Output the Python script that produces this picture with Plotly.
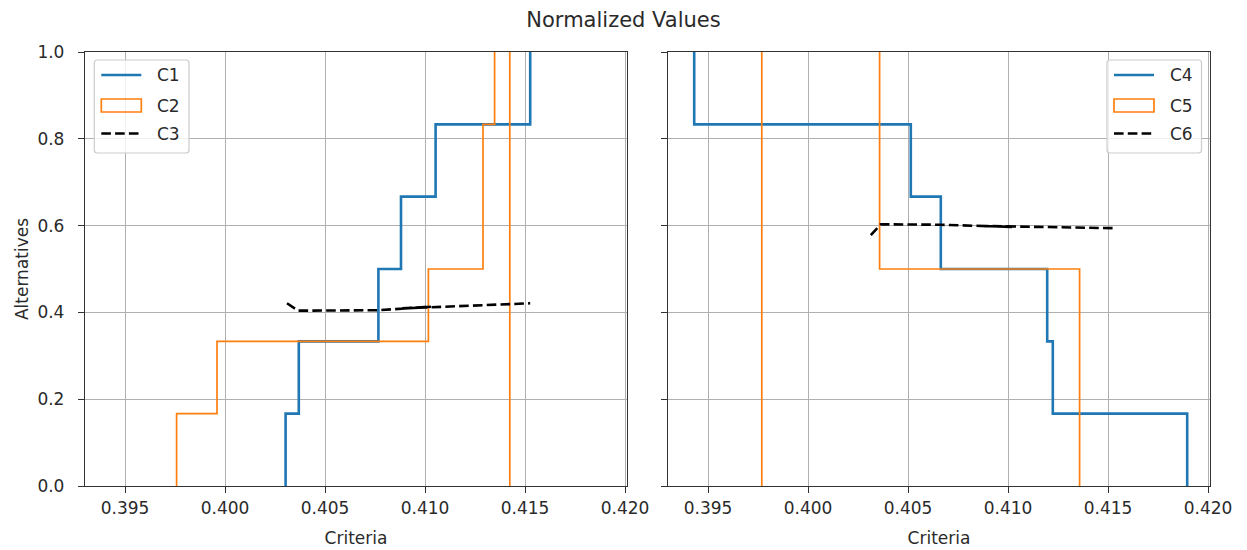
import plotly.graph_objects as go

# ---------------- data ----------------
x_ticks = [0.395, 0.400, 0.405, 0.410, 0.415, 0.420]
y_ticks = [0.0, 0.2, 0.4, 0.6, 0.8, 1.0]

# left panel
c1_x = [0.40303, 0.40303, 0.40369, 0.40767, 0.40880, 0.41053, 0.41526]
c1_y = [0.0, 0.1667, 0.3333, 0.5, 0.6667, 0.8333, 1.0]
c2_x = [0.39758, 0.39758, 0.39960, 0.41017, 0.41290, 0.41348, None, 0.41424, 0.41424]
c2_y = [0.0, 0.1667, 0.3333, 0.5, 0.8333, 1.0, None, 1.0, 0.0]
c3_x = [0.40310, 0.40365, 0.40767, 0.41030, 0.40880, 0.41526]
c3_y = [0.421, 0.404, 0.405, 0.413, 0.409, 0.421]

# right panel
c4_x = [0.39431, 0.39431, 0.40514, 0.40664, 0.41196, 0.41224, 0.41896]
c4_y = [1.0, 0.8333, 0.6667, 0.5, 0.3333, 0.1667, 0.0]
c5_x = [0.39769, 0.39769, None, 0.40358, 0.40358, 0.41358]
c5_y = [0.0, 1.0, None, 1.0, 0.5, 0.0]
c6_x = [0.40314, 0.40364, 0.40664, 0.41020, 0.40888, 0.41536]
c6_y = [0.578, 0.603, 0.602, 0.597, 0.599, 0.594]

BLUE = "#1f77b4"
ORANGE = "#ff7f0e"
DASH = "9.6px,4.2px"
FONT = "DejaVu Sans"
TXT = "#2a2a2a"

W, H = 1247, 550
ML, MR, MT, MB = 85, 37, 52, 64
PW = W - ML - MR
PH = H - MT - MB

fig = go.Figure()

def add(x, y, color, width, dash=None, shape="hv", xa="x", ya="y", name=""):
    fig.add_trace(go.Scatter(
        x=x, y=y, mode="lines", name=name, showlegend=False,
        line=dict(color=color, width=width, dash=dash, shape=shape),
        connectgaps=False, xaxis=xa, yaxis=ya, hoverinfo="skip"))

add(c1_x, c1_y, BLUE, 2.6, name="C1")
add(c2_x, c2_y, ORANGE, 1.7, name="C2")
add(c3_x, c3_y, "black", 2.6, dash=DASH, shape="linear", name="C3")
add(c4_x, c4_y, BLUE, 2.6, xa="x2", ya="y2", name="C4")
add(c5_x, c5_y, ORANGE, 1.7, xa="x2", ya="y2", name="C5")
add(c6_x, c6_y, "black", 2.6, dash=DASH, shape="linear", xa="x2", ya="y2", name="C6")

axis_common = dict(
    range=[0.3930, 0.4201], tickvals=x_ticks, tickformat=".3f", automargin=False,
    showline=True, mirror=True, linecolor="#333", linewidth=1.3,
    ticks="outside", ticklen=6, tickwidth=1.3, tickcolor="#333",
    showgrid=True, gridcolor="#b0b0b0", gridwidth=1.2, zeroline=False,
    tickfont=dict(family=FONT, size=17, color=TXT),
    title=dict(text="Criteria", font=dict(family=FONT, size=17, color=TXT), standoff=15),
)
yaxis_common = dict(
    range=[0, 1], tickvals=y_ticks, tickformat=".1f", automargin=False,
    showline=True, mirror=True, linecolor="#333", linewidth=1.3,
    ticks="outside", ticklen=6, tickwidth=1.3, tickcolor="#333",
    showgrid=True, gridcolor="#b0b0b0", gridwidth=1.2, zeroline=False,
    tickfont=dict(family=FONT, size=17, color=TXT),
)

fig.update_layout(
    width=W, height=H,
    margin=dict(l=ML, r=MR, t=MT, b=MB, pad=0, autoexpand=False),
    paper_bgcolor="white", plot_bgcolor="white",
    font=dict(family=FONT, size=17, color=TXT),
    xaxis=dict(domain=[0, 542 / PW], anchor="y", **axis_common),
    xaxis2=dict(domain=[583 / PW, 1], anchor="y2", **axis_common),
    yaxis=dict(domain=[0, 1], anchor="x", ticklabelstandoff=10,
               title=dict(text="Alternatives", font=dict(family=FONT, size=17, color=TXT), standoff=4),
               **yaxis_common),
    yaxis2=dict(domain=[0, 1], anchor="x2", matches="y", showticklabels=False, **yaxis_common),
    title=dict(text="Normalized Values", x=0.5, xref="container", xanchor="center",
               y=1 - 20 / H, yref="container", yanchor="middle",
               font=dict(family=FONT, size=21, color=TXT)),
    showlegend=False,
)

# ---------------- hand-drawn matplotlib-style legends ----------------
def fx(px):
    return (px - ML) / PW

def fy(py):
    return (MT + PH - py) / PH

def rounded_rect(x0, y0, x1, y1, r=3):
    p = []
    p.append(f"M{fx(x0 + r)},{fy(y0)}")
    p.append(f"L{fx(x1 - r)},{fy(y0)}")
    p.append(f"Q{fx(x1)},{fy(y0)} {fx(x1)},{fy(y0 + r)}")
    p.append(f"L{fx(x1)},{fy(y1 - r)}")
    p.append(f"Q{fx(x1)},{fy(y1)} {fx(x1 - r)},{fy(y1)}")
    p.append(f"L{fx(x0 + r)},{fy(y1)}")
    p.append(f"Q{fx(x0)},{fy(y1)} {fx(x0)},{fy(y1 - r)}")
    p.append(f"L{fx(x0)},{fy(y0 + r)}")
    p.append(f"Q{fx(x0)},{fy(y0)} {fx(x0 + r)},{fy(y0)}")
    p.append("Z")
    return " ".join(p)

legend_names_left = ["C1", "C2", "C3"]
legend_names_right = ["C4", "C5", "C6"]
row_y = [75, 105.5, 133.5]

def draw_legend(bx0, bx1, names):
    by0, by1 = 60, 153
    fig.add_shape(type="path", path=rounded_rect(bx0, by0, bx1, by1), xref="paper", yref="paper",
                  line=dict(color="#cccccc", width=1.2), fillcolor="rgba(255,255,255,0.8)", layer="above")
    hx0, hx1 = bx0 + 7, bx0 + 47
    fig.add_shape(type="line", x0=fx(hx0), x1=fx(hx1), y0=fy(row_y[0]), y1=fy(row_y[0]),
                  xref="paper", yref="paper", line=dict(color=BLUE, width=2.6), layer="above")
    fig.add_shape(type="rect", x0=fx(hx0), x1=fx(hx1), y0=fy(row_y[1] - 6.5), y1=fy(row_y[1] + 6.5),
                  xref="paper", yref="paper", line=dict(color=ORANGE, width=1.7),
                  fillcolor="rgba(0,0,0,0)", layer="above")
    fig.add_shape(type="line", x0=fx(hx0), x1=fx(hx1), y0=fy(row_y[2]), y1=fy(row_y[2]),
                  xref="paper", yref="paper", line=dict(color="black", width=2.6, dash=DASH), layer="above")
    for name, ry in zip(names, row_y):
        fig.add_annotation(text=name, x=fx(bx0 + 61), y=fy(ry), xref="paper", yref="paper",
                           xanchor="left", yanchor="middle", showarrow=False,
                           font=dict(family=FONT, size=17, color=TXT))

draw_legend(94.3, 189, legend_names_left)
draw_legend(1107, 1201.5, legend_names_right)

fig.write_html("out.html")
